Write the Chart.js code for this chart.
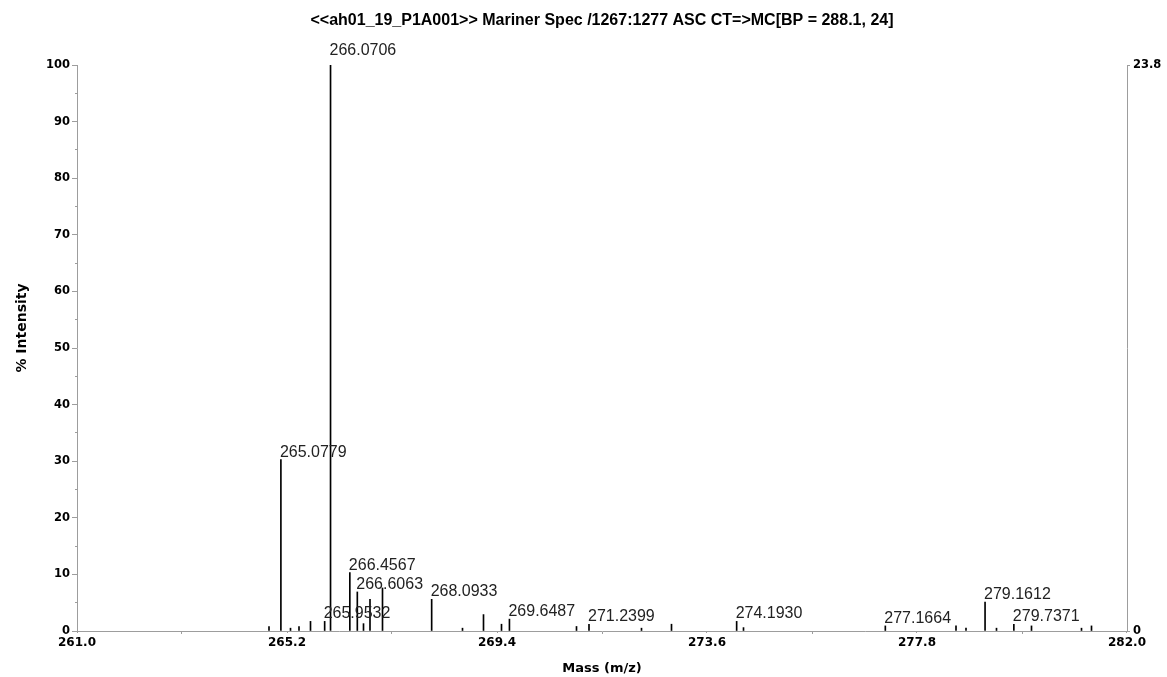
<!DOCTYPE html>
<html>
<head>
<meta charset="utf-8">
<title>Mariner Spec</title>
<script src="https://cdn.jsdelivr.net/npm/chart.js@4.4.1/dist/chart.umd.min.js"></script>
<style>
  html, body { margin: 0; padding: 0; background: #fff; overflow: hidden; }
  canvas { display: block; }
</style>
</head>
<body>
<canvas id="spectrum" width="1167" height="677"></canvas>
<script>
// Spectrum header
const titleText = '<<ah01_19_P1A001>> Mariner Spec /1267:1277 ASC CT=>MC[BP = 288.1, 24]';

// Centroided peaks: m/z and relative intensity (%)
const peakMz = [
  264.84, 265.0779, 265.27, 265.44, 265.67, 265.9532, 266.0706, 266.4567,
  266.6063, 266.73, 266.86, 267.11, 268.0933, 268.71, 269.13, 269.49,
  269.6487, 270.99, 271.2399, 272.29, 272.89, 274.1930, 274.33, 277.1664,
  278.58, 278.78, 279.1612, 279.39, 279.7371, 280.09, 281.09, 281.29
];
const peakIntensity = [
  0.8, 30.3, 0.5, 0.8, 1.7, 1.7, 100, 10.3,
  6.9, 1.3, 5.6, 7.6, 5.6, 0.5, 2.9, 1.2,
  2.1, 0.8, 1.2, 0.5, 1.2, 1.7, 0.6, 0.9,
  0.9, 0.5, 5.1, 0.5, 1.2, 0.9, 0.5, 0.9
];

// Peaks that carry an m/z annotation
const labelledMz = [
  265.0779, 265.9532, 266.0706, 266.4567, 266.6063, 268.0933,
  269.6487, 271.2399, 274.1930, 277.1664, 279.1612, 279.7371
];

// Axis ticks
const massTicks = [261.0, 265.2, 269.4, 273.6, 277.8, 282.0];
const massMinorTicks = [263.1, 267.3, 271.5, 275.7, 279.9];
const intensityTicks = [0, 10, 20, 30, 40, 50, 60, 70, 80, 90, 100];
const intensityMinorTicks = [5, 15, 25, 35, 45, 55, 65, 75, 85, 95];
const absoluteTicks = [0, 23.8];

const FONT = "'DejaVu Sans', 'Liberation Sans', sans-serif";
const LABEL_FONT = "'Liberation Sans', Arial, sans-serif";
const AXIS_COLOR = '#9d9d9d';

const setTicks = vals => scale => { scale.ticks = vals.map(v => ({ value: v })); };
const fixWidth = w => scale => { scale.width = w; };
const fixHeight = h => scale => { scale.height = h; };

// m/z annotations above the labelled sticks
const peakLabels = {
  id: 'peakLabels',
  afterDatasetsDraw(chart) {
    const { ctx, chartArea, scales } = chart;
    ctx.save();
    ctx.font = `16px ${LABEL_FONT}`;
    ctx.fillStyle = '#222';
    ctx.textAlign = 'left';
    ctx.textBaseline = 'alphabetic';
    labelledMz.forEach(mz => {
      const i = peakMz.indexOf(mz);
      if (i < 0) return;
      const px = scales.x.getPixelForValue(mz);
      const py = scales.y.getPixelForValue(peakIntensity[i]);
      // the base peak's label sits a little higher, clear of the top edge
      const gap = py - chartArea.top < 2 ? 10 : 3;
      ctx.fillText(mz.toFixed(4), px - 1, py - gap);
    });
    ctx.restore();
  }
};

// Rotated "% Intensity" caption on the left
const intensityCaption = {
  id: 'intensityCaption',
  afterDraw(chart) {
    const { ctx } = chart;
    ctx.save();
    ctx.translate(22, 328);
    ctx.rotate(-Math.PI / 2);
    ctx.font = `bold 14px ${FONT}`;
    ctx.fillStyle = '#000';
    ctx.textAlign = 'center';
    ctx.textBaseline = 'middle';
    ctx.fillText('% Intensity', 0, 0);
    ctx.restore();
  }
};

const xTickFont = { family: FONT, size: 12, weight: 'bold' };
const yTickFont = { family: FONT, size: 11.5, weight: 'bold' };

new Chart(document.getElementById('spectrum'), {
  type: 'bar',
  data: {
    datasets: [{
      data: peakMz.map((m, i) => ({ x: m, y: peakIntensity[i] })),
      backgroundColor: '#000',
      borderWidth: 0,
      barThickness: 1,
      xAxisID: 'x',
      yAxisID: 'y'
    }]
  },
  options: {
    responsive: false,
    animation: false,
    devicePixelRatio: 1,
    layout: { padding: 0 },
    plugins: {
      legend: { display: false },
      tooltip: { enabled: false },
      title: {
        display: true,
        text: titleText,
        fullSize: false,
        color: '#000',
        font: { family: LABEL_FONT, size: 16, weight: 'bold' },
        padding: { top: 11, bottom: 34.8 }
      }
    },
    scales: {
      x: {
        type: 'linear',
        position: 'bottom',
        min: 261, max: 282,
        offset: false,
        weight: 0,
        afterBuildTicks: setTicks(massTicks),
        afterFit: fixHeight(46),
        grid: { display: true, drawOnChartArea: false, drawTicks: true, tickLength: 3, color: AXIS_COLOR },
        border: { display: true, color: AXIS_COLOR, width: 1 },
        ticks: {
          font: xTickFont, color: '#000', padding: 2,
          maxRotation: 0, autoSkip: false,
          callback: v => Number(v).toFixed(1)
        },
        title: {
          display: true, text: 'Mass (m/z)', color: '#000',
          font: { family: FONT, size: 13, weight: 'bold' },
          padding: { top: 0, bottom: 1 }
        }
      },
      xMinor: {
        type: 'linear',
        axis: 'x',
        position: 'bottom',
        min: 261, max: 282,
        offset: false,
        weight: -1,
        afterBuildTicks: setTicks(massMinorTicks),
        afterFit: fixHeight(0),
        grid: { display: true, drawOnChartArea: false, drawTicks: true, tickLength: 2, color: AXIS_COLOR },
        border: { display: false },
        ticks: { display: false }
      },
      y: {
        type: 'linear',
        position: 'left',
        min: 0, max: 100,
        weight: 0,
        afterBuildTicks: setTicks(intensityTicks),
        afterFit: fixWidth(77),
        grid: { display: true, drawOnChartArea: false, drawTicks: true, tickLength: 5, color: AXIS_COLOR },
        border: { display: true, color: AXIS_COLOR, width: 1 },
        ticks: { font: yTickFont, color: '#000', padding: 2, callback: v => String(v) }
      },
      yMinor: {
        type: 'linear',
        axis: 'y',
        position: 'left',
        min: 0, max: 100,
        weight: -1,
        afterBuildTicks: setTicks(intensityMinorTicks),
        afterFit: fixWidth(0),
        grid: { display: true, drawOnChartArea: false, drawTicks: true, tickLength: 2, color: AXIS_COLOR },
        border: { display: false },
        ticks: { display: false }
      },
      y2: {
        type: 'linear',
        axis: 'y',
        position: 'right',
        min: 0, max: 23.8,
        afterBuildTicks: setTicks(absoluteTicks),
        afterFit: fixWidth(40),
        grid: { display: true, drawOnChartArea: false, drawTicks: true, tickLength: 3, color: AXIS_COLOR },
        border: { display: true, color: AXIS_COLOR, width: 1 },
        ticks: { font: yTickFont, color: '#000', padding: 3, callback: v => (v === 0 ? '0' : Number(v).toFixed(1)) }
      }
    }
  },
  plugins: [peakLabels, intensityCaption]
});
</script>
</body>
</html>
